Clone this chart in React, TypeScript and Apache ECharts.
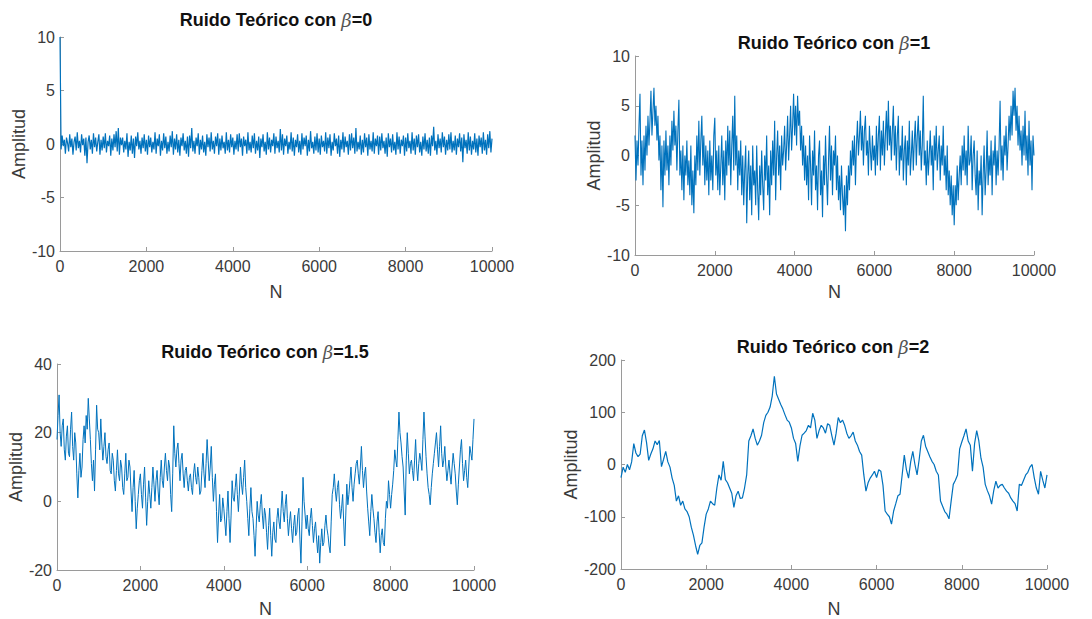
import React, { useEffect, useRef } from "react";
import * as echarts from "echarts";

// Samples are evenly spaced over N = 0..10000
const nMax = 10000;

// beta = 0 (every 25th sample)
const beta0 = [
  10, -0.5, 0.8, -0.2, 0.4, -0.9, 0.6, 0.1, -0.7, 0.9, -0.3, 0.5, -1.0, 0.2, 0.7, -0.6, 1.1, -0.4, 0.3, -0.8, 0.9, -0.1, 0.5, -1.1, 0.6, -1.8, 0.2, 0.8, -0.5, 0.4, -0.9, 1.0, -0.3, 0.6, -0.7, 0.2, 0.9, -1.0, 0.4, -0.6,
  0.7, -0.4, 1.0, -0.8, 0.3, -0.2, 0.8, -1.1, 0.5, -0.6, 0.9, -0.3, 1.2, -0.7, 1.5, -1.0, 0.6, -0.1, 0.6, -0.8, 0.3, -0.5, 1.0, -1.2, 0.2, -0.6, 0.8, -0.9, 0.5, -1.3, 0.7, -0.2, 1.1, -0.5, 0.3, -0.9, 0.6, -0.4, 0.9, -0.7,
  0.4, -1.0, 0.8, -0.3, 0.6, -0.8, 0.2, -0.5, 1.1, -0.9, 0.5, -0.2, 0.9, -1.1, 0.3, -0.6, 1.0, -0.4, 0.7, -0.9, 0.2, -0.7, 0.8, -0.3, 1.2, -1.0, 0.5, -0.5, 0.9, -0.8, 0.4, -1.1, 0.6, -0.2, 1.0, -0.6, 0.3, -0.9, 0.7, -1.2,
  0.8, -0.4, 1.5, -0.7, 0.3, -0.9, 0.6, -0.2, 1.0, -1.0, 0.4, -0.5, 0.8, -0.8, 0.2, -1.1, 0.9, -0.3, 0.6, -0.7, 1.1, -0.5, 0.3, -0.9, 0.7, -0.2, 1.0, -1.0, 0.5, -0.6, 0.8, -0.4, 0.2, -0.9, 1.1, -0.6, 0.4, -0.8, 0.9, -0.3,
  0.6, -1.0, 0.3, -0.5, 0.9, -0.7, 1.0, -0.3, 0.5, -1.1, 0.7, -0.2, 0.4, -0.9, 1.1, -0.6, 0.2, -0.8, 0.8, -0.4, 1.0, -0.9, 0.3, -0.6, 0.7, -1.3, 0.5, -0.3, 0.9, -0.7, 0.2, -1.0, 1.1, -0.5, 0.6, -0.8, 0.4, -0.2, 1.0, -0.9,
  0.7, -0.4, 0.3, -0.8, 1.4, -0.6, 0.9, -1.0, 0.5, -0.2, 0.8, -0.9, 0.2, -0.5, 1.1, -0.7, 0.6, -1.1, 0.4, -0.3, 0.9, -0.8, 0.3, -1.0, 1.0, -0.5, 0.6, -0.2, 0.8, -1.1, 0.4, -0.7, 1.2, -0.4, 0.2, -0.9, 0.7, -0.6, 1.0, -0.8,
  0.5, -1.0, 0.8, -0.3, 0.3, -0.7, 1.1, -0.9, 0.6, -0.4, 0.9, -1.1, 0.2, -0.6, 1.0, -0.2, 0.5, -0.9, 0.8, -1.2, 0.4, -0.5, 1.1, -0.8, 0.7, -0.3, 0.3, -1.0, 0.9, -0.6, 1.0, -0.4, 0.6, -0.9, 1.5, -0.7, 0.2, -0.5, 0.8, -1.0,
  0.4, -0.8, 1.0, -0.3, 0.6, -1.1, 0.9, -0.5, 0.3, -0.7, 1.1, -0.9, 0.5, -0.2, 0.8, -1.0, 0.7, -0.6, 1.0, -0.4, 0.3, -0.9, 0.6, -1.2, 1.0, -0.3, 0.5, -0.8, 0.9, -0.6, 0.2, -1.0, 1.1, -0.5, 0.7, -0.9, 0.4, -0.2, 0.8, -1.1,
  0.6, -0.7, 1.0, -0.4, 0.3, -0.9, 1.1, -0.6, 0.5, -1.0, 0.8, -0.3, 0.9, -0.8, 0.2, -1.1, 0.7, -0.5, 1.0, -0.7, 0.4, -0.9, 0.6, -1.1, 0.8, -0.2, 1.6, -0.6, 0.3, -1.0, 0.9, -0.4, 0.5, -0.8, 1.1, -0.3, 0.7, -1.0, 0.4, -0.6,
  0.9, -0.5, 1.1, -0.8, 0.3, -0.6, 0.8, -1.0, 0.5, -0.3, 1.0, -0.7, 0.6, -1.7, 0.9, -0.4, 0.4, -0.9, 1.1, -0.6, 0.7, -1.0, 0.3, -0.5, 1.0, -0.8, 0.5, -1.1, 0.8, -0.3, 0.6, -0.9, 1.1, -0.6, 0.4, -1.0, 0.9, -0.4, 1.2, -0.8,
  0.5,
];

// beta = 1 (every 25th sample)
const beta1 = [
  2, -2.5, 1.5, -1, 3, 6.2, -2, 1.5, -3, 2, -1.5, 3, 0, 4, 1, 3.5, 6.5, 2, 4.5, 6.8, 3, 5, 1.5, 4, -0.5, 2, -3.5, 1, -5.2, 1.5, -2, 2.5, -1.5, 1, -3, 2, -1, 3.5, 0.5, 4.5,
  1, 3, -1.5, 2.5, 5.6, -2, 0.5, -3.5, 1, -4.5, 0, -2, 1.5, -3, -0.5, -4, 1, -5, -1.5, -5.8, 0, -3, 2, -1.5, 3.5, -2, 1.5, 4, -1, 2, -3, 1, -2.5, 0.5, -4, 1.5, -2.5, 0, -3.5, 2,
  3.8, -2, 0.5, -3.5, 1, -4, -1, 2, -3, 0.5, -4.5, 1.5, -2, 3, -1, 2.5, -3, 1, 4, -1.5, 6, -1, 2, -3.5, 0.5, -2, 1.5, -4, 0, -5, -1.5, 1, -6.8, -2, 0.5, -4.5, -1, -6, 1, -3,
  -1.5, -5, 1, -3.5, -6.5, -1, -4, 0.5, -3, -5.5, 0, -2.5, 2, -4, -1, -6, 0.5, -3, 1.5, -2, 3.5, -4.5, 0, 2.5, -2, 1, -3.5, 2, -1, 0.5, 3, -1.5, 1, 4, -0.5, 2, 5, 0.5, 3, 6.2,
  2, 5, 1, 6, 3, 4.5, 0.5, 3, -1, 2, -2.5, 1, -3, 0, -4.5, 2, -1, -5, 0.5, -2, 2.5, -3.5, -1, -5.5, 0, 1.5, -4, -1.5, -6.2, 0, -3, 2, -2, -5, -0.5, 3, -2.5, 1, -4, 0.5,
  -1, 2, -3.5, 0, -4.5, -2, -5.5, -1, -4, -6, -3, -7.6, -2, -5, -1, -3.5, 0.5, -2, 1.5, -1, 2, -3, 1, 3.5, 0, 2, 4.5, 0.5, 3, -1, 2.5, 4, 0, 1.5, -2, 3, 0.5, -1.5, 2, -0.5,
  1, -2, 3, -1, 2, 4, -1.5, 2.5, 0, 3.5, -1, 2, 4.5, 0.5, 5.5, 1, 3, -0.5, 2.5, 5, 0, 3, -1.5, 2, 4, -2, 1, -0.5, 3, -2.5, 0.5, 2, -3, 1.5, -1, 3.5, -2, 0, 2.5, -1.5,
  1.5, 3.5, -1, 2, 4, 0, 2.5, -1.5, 1, 6, -1, 0.5, -3, 1.5, -2, 0, 2.5, -1, 1, -3.5, 2, -0.5, 3, -1.5, 0.5, 2, -2.5, 1, -1, 3, -2, 0, -3.5, 1, -4, -1.5, -5, -2, -6, -3,
  -7, -3, -5, -1, -4.5, -2, 0, -3, 1, -1.5, 2, -2, 0.5, -3, 3, -1, -0.5, 2, -3.5, 0, 1.5, -2, -4, 0.5, -5.5, -1.5, -3, 0, -6, -2, 1, -4, -1.5, 2.5, -3, 0, -2, 1.5, -4, 0.5,
  -1, 2, -3, 0.5, -2, 1, 5.5, -1.5, 1, -2.5, 2, 0, 3, -1.5, 1, 4, 1.5, 5, 2, 6.5, 4, 6.8, 2.5, 5, 1, 4, 0.5, 2.5, -1, 3, 0, 4.5, -0.5, 2, -2, 3.5, -1, 1.5, -3.5, 2,
  0,
];

// beta = 1.5 (every 25th sample)
const beta15 = [
  18, 25, 31, 20, 16, 22, 24, 15, 12, 19, 22, 14, 13, 21, 26, 16, 12, 20, 17, 8, 1, 9, 14, 7, 10, 18, 22, 17, 25, 21, 30, 24, 18, 11, 6, 12, 3, 15, 28, 21,
  20, 15, 24, 17, 12, 16, 20, 13, 11, 15, 17, 9, 8, 14, 12, 6, 3, 9, 15, 8, 6, 12, 10, 4, 2, 8, 14, 6, 7, 12, 10, 3, -3, 4, 9, 0, -8, -2, 2, 6,
  8, 2, -2, 5, 10, 1, -7, 0, 6, 2, -2, 4, 10, 5, 0, 6, 9, 3, -1, 7, 12, 6, 4, 10, 14, 9, 6, 12, 10, 2, -3, 8, 22, 14, 10, 15, 17, 11, 6, 12,
  14, 8, 4, 9, 10, 6, 3, 7, 8, 4, 2, 8, 11, 7, 5, 10, 7, 2, 3, 9, 14, 8, 4, 11, 18, 12, 6, 10, 16, 7, 0, 5, 8, -3, -12, -4, 2, -6, -5, 1,
  -2, -6, -10, -3, 3, -5, -12, -4, 6, 1, 0, 4, 8, 2, -3, 3, 10, 5, 2, 7, 12, 4, 0, -5, -10, -2, 4, -3, -5, -10, -16, -8, 0, -4, -6, -1, 2, -4, -8, -2,
  -4, -9, -14, -7, -2, -10, -16, -9, -6, -11, -12, -5, -2, -6, -8, -2, 3, -3, -6, -1, 2, -5, -10, -6, -3, -8, -12, -7, -4, -10, -9, -4, -2, -11, -18, -6, 7, 0, -4, -8,
  -4, -8, -10, -5, -2, -7, -12, -8, -6, -11, -15, -10, -18, -12, -8, -13, -12, -7, -4, -8, -10, -13, -15, -6, 2, 4, 8, 3, 0, 4, 6, -1, -5, -2, 2, -6, -13, -4, 5, -1,
  2, 6, 10, 4, 0, 5, 8, 11, 12, 8, 5, 10, 16, 9, 4, 8, 10, 3, -2, -6, -10, -3, 2, -2, -5, -9, -12, -6, -3, -9, -15, -10, -8, -12, -13, -5, 0, -2, 6, 2,
  -2, 2, 5, 9, 15, 12, 10, 18, 26, 20, 17, 13, 10, 3, -4, 12, 20, 14, 8, 11, 12, 9, 6, 12, 18, 10, 6, 11, 14, 12, 9, 18, 26, 19, 13, 8, 4, 2, -1, 4,
  8, 11, 14, 17, 20, 15, 10, 16, 22, 14, 10, 12, 16, 10, 6, 9, 12, 8, 5, 10, 14, 11, 8, 3, -1, 5, 10, 15, 18, 11, 6, 9, 12, 7, 4, 10, 16, 14, 12, 18,
  24,
];

// beta = 2 (every 50th sample)
const beta2 = [
  -25, -5, -15, 0, -10, 5, 40, 22, 15, 20, 55, 66, 42, 8, 20, 30, 45, 38, 46, -4,
  10, 25, 5, -5, -26, -40, -70, -60, -78, -70, -85, -90, -100, -120, -135, -155, -172, -155, -150, -120,
  -95, -85, -70, -75, -78, -45, -20, -30, 6, -29, -35, -45, -55, -82, -60, -51, -65, -64, -45, -20,
  45, 55, 68, 50, 37, 45, 56, 80, 94, 100, 110, 131, 169, 135, 125, 115, 106, 95, 85, 81,
  70, 50, 40, 6, 35, 56, 60, 65, 75, 70, 98, 85, 50, 65, 75, 70, 60, 78, 75, 55,
  37, 60, 90, 80, 85, 75, 60, 50, 55, 62, 45, 37, 25, 18, -20, -51, -35, -26, -20, -13,
  -25, -10, -13, -40, -89, -95, -100, -114, -89, -75, -60, -57, -20, 18, -10, -26, 5, 25, 0, -20,
  10, 45, 56, 35, 25, 15, 6, 0, -13, -20, -70, -80, -90, -95, -104, -70, -38, -30, -20, 30,
  43, 55, 68, 45, 37, -13, 40, 65, 45, 12, -5, -38, -50, -60, -76, -50, -32, -45, -40, -38,
  -45, -51, -55, -64, -70, -75, -89, -38, -40, -30, -20, -15, -5, 0, -25, -45, -57, -13, -30, -45,
  -20,
];

const titles = ["=0", "=1", "=1.5", "=2"];
const yRanges = [
  [-10, 10, 5],
  [-10, 10, 5],
  [-20, 40, 20],
  [-200, 200, 100],
];
const xTicks = [0, 10000, 2000];

const grids = [
  { left: 60, top: 37, width: 432, height: 214 },
  { left: 635, top: 56, width: 399, height: 199 },
  { left: 57, top: 364, width: 417, height: 209 },
  { left: 621, top: 360, width: 426, height: 212 },
];
const titlePos = [
  [276, 20],
  [834, 43],
  [265, 352],
  [833, 347],
];
const yNameGaps = [32, 27, 30, 40];
const xNameGaps = [32, 28, 30, 31];
const lineWidths = [1.2, 1.1, 1.0, 1.2];

export default function App() {
  const ref = useRef<HTMLDivElement>(null);
  useEffect(() => {
    if (!ref.current) return;
    const chart = echarts.init(ref.current, undefined, { renderer: "svg" });
    const seriesData = [beta0, beta1, beta15, beta2];
    const font = "Arial, 'Liberation Sans', Helvetica, sans-serif";
    const axisColor = "#9a9a9a";
    const labelColor = "#3a3a3a";
    chart.setOption({
      animation: false,
      backgroundColor: "#ffffff",
      graphic: titles.map((t, i) => ({
        type: "text",
        x: titlePos[i][0],
        y: titlePos[i][1],
        style: {
          text: "Ruido Teórico con {b|β}" + t,
          align: "center",
          verticalAlign: "middle",
          fontFamily: font,
          fontWeight: "bold",
          fontSize: 18,
          fill: "#111",
          rich: {
            b: {
              fontFamily: "'DejaVu Serif', serif",
              fontStyle: "italic",
              fontWeight: "normal",
              fontSize: 18,
              fill: "#555",
              color: "#555",
            },
          },
        },
      })),
      grid: grids.map((g) => ({ ...g, containLabel: false })),
      xAxis: grids.map((_, i) => ({
        type: "value",
        gridIndex: i,
        min: xTicks[0],
        max: xTicks[1],
        interval: xTicks[2],
        name: "N",
        nameLocation: "middle",
        nameGap: xNameGaps[i],
        nameTextStyle: { fontFamily: font, fontSize: 18, color: labelColor },
        axisLine: { show: true, onZero: false, lineStyle: { color: axisColor, width: 1 } },
        axisTick: { show: true, inside: true, length: 4, lineStyle: { color: axisColor } },
        axisLabel: {
          fontFamily: font,
          fontSize: 16,
          color: labelColor,
          margin: 7,
          formatter: (v: number) => String(v),
        },
        splitLine: { show: false },
      })),
      yAxis: grids.map((_, i) => ({
        type: "value",
        gridIndex: i,
        min: yRanges[i][0],
        max: yRanges[i][1],
        interval: yRanges[i][2],
        name: "Amplitud",
        nameLocation: "middle",
        nameRotate: 90,
        nameGap: yNameGaps[i],
        nameTextStyle: { fontFamily: font, fontSize: 18, color: labelColor },
        axisLine: { show: true, onZero: false, lineStyle: { color: axisColor, width: 1 } },
        axisTick: { show: true, inside: true, length: 4, lineStyle: { color: axisColor } },
        axisLabel: {
          fontFamily: font,
          fontSize: 16,
          color: labelColor,
          margin: 5,
          formatter: (v: number) => String(v),
        },
        splitLine: { show: false },
      })),
      series: seriesData.map((arr, i) => ({
        type: "line",
        xAxisIndex: i,
        yAxisIndex: i,
        data: arr.map((v, k) => [(k * nMax) / (arr.length - 1), v]),
        showSymbol: false,
        symbol: "none",
        lineStyle: { color: "#0072BD", width: lineWidths[i] },
        clip: true,
      })),
    });
    return () => chart.dispose();
  }, []);
  return (
    <div
      ref={ref}
      style={{ position: "fixed", left: 0, top: 0, width: 1092, height: 619, background: "#fff" }}
    />
  );
}
